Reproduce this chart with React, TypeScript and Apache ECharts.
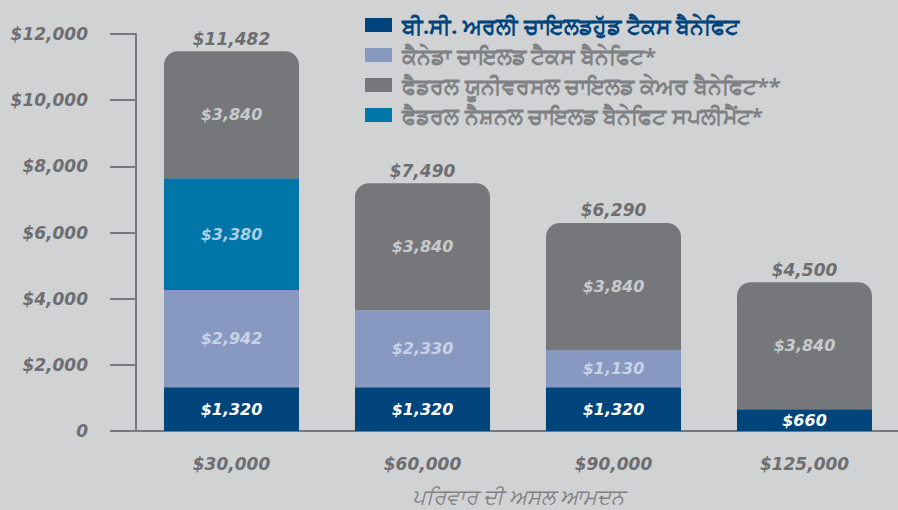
import React, { useEffect, useRef } from "react";
import * as echarts from "echarts";

const categories = ["$30,000", "$60,000", "$90,000", "$125,000"];
const bcEarly = [1320, 1320, 1320, 660];
const canadaChild = [2942, 2330, 1130, null];
const nationalSupplement = [3380, null, null, null];
const universalCare = [3840, 3840, 3840, 3840];
const totals = [11482, 7490, 6290, 4500];

const nameBC = "ਬੀ.ਸੀ. ਅਰਲੀ ਚਾਇਲਡਹੁੱਡ ਟੈਕਸ ਬੈਨੇਫਿਟ";
const nameCanada = "ਕੈਨੇਡਾ ਚਾਇਲਡ ਟੈਕਸ ਬੈਨੇਫਿਟ*";
const nameUniversal = "ਫੈਡਰਲ ਯੂਨੀਵਰਸਲ ਚਾਇਲਡ ਕੇਅਰ ਬੈਨੇਫਿਟ**";
const nameNational = "ਫੈਡਰਲ ਨੈਸ਼ਨਲ ਚਾਇਲਡ ਬੈਨੇਫਿਟ ਸਪਲੀਮੈਂਟ*";
const axisName = "ਪਰਿਵਾਰ ਦੀ ਅਸਲ ਆਮਦਨ";

const NUMFONT = "'DejaVu Sans', 'Open Sans', sans-serif";
const TXTFONT = "'Noto Sans', 'DejaVu Sans', sans-serif";
const fmt = (v: number) => "$" + Number(v).toLocaleString("en-US");

export default function App() {
  const ref = useRef<HTMLDivElement>(null);
  useEffect(() => {
    if (!ref.current) return;
    const chart = echarts.init(ref.current, null, { renderer: "svg" });
    const segLabel = (color: string) => ({
      show: true,
      position: "inside" as const,
      color,
      fontFamily: NUMFONT,
      fontStyle: "italic" as const,
      fontWeight: "bold" as const,
      fontSize: 16,
      formatter: (p: any) => fmt(p.value),
    });
    const barCommon = {
      type: "bar" as const,
      stack: "total",
      barWidth: "70.7%",
      barGap: "-100%",
    };
    chart.setOption({
      animation: false,
      backgroundColor: "#d1d2d4",
      grid: {
        left: 136,
        right: -2,
        top: 34,
        bottom: 79,
        containLabel: false,
        outerBoundsMode: "none",
      },
      legend: {
        orient: "vertical",
        left: 360,
        top: 9,
        itemWidth: 27,
        itemHeight: 14,
        itemGap: 8,
        icon: "rect",
        selectedMode: false,
        textStyle: {
          fontFamily: TXTFONT,
          fontSize: 22,
          fontWeight: "bold",
          color: "#808184",
          padding: [0, 0, 0, 5],
          lineHeight: 20,
        },
        data: [
          { name: nameBC, textStyle: { color: "#00447c" } },
          { name: nameCanada },
          { name: nameUniversal },
          { name: nameNational },
        ],
      },
      xAxis: {
        type: "category",
        data: categories,
        name: axisName,
        nameLocation: "middle",
        nameGap: 55,
        nameTextStyle: {
          fontFamily: TXTFONT,
          fontSize: 21,
          lineHeight: 20,
          fontStyle: "italic",
          color: "#808184",
        },
        axisLine: { lineStyle: { color: "#77787b", width: 2 } },
        axisTick: { show: false },
        axisLabel: {
          margin: 24,
          fontFamily: NUMFONT,
          fontStyle: "italic",
          fontWeight: "bold",
          fontSize: 17,
          color: "#6d6e71",
        },
      },
      yAxis: {
        type: "value",
        min: 0,
        max: 12000,
        interval: 2000,
        axisLine: { show: true, lineStyle: { color: "#77787b", width: 2 } },
        axisTick: { show: true, length: 26, lineStyle: { color: "#77787b", width: 2 } },
        splitLine: { show: false },
        axisLabel: {
          margin: 48,
          fontFamily: NUMFONT,
          fontStyle: "italic",
          fontWeight: "bold",
          fontSize: 17,
          color: "#6d6e71",
          formatter: (v: number) => (v === 0 ? "0" : fmt(v)),
        },
      },
      series: [
        {
          ...barCommon,
          name: nameBC,
          data: bcEarly,
          itemStyle: { color: "#00447c" },
          label: segLabel("#ffffff"),
        },
        {
          ...barCommon,
          name: nameCanada,
          data: canadaChild,
          itemStyle: { color: "#8799c1" },
          label: segLabel("#c9d1e6"),
        },
        {
          ...barCommon,
          name: nameNational,
          data: nationalSupplement,
          itemStyle: { color: "#0076a8" },
          label: segLabel("#a9cde3"),
        },
        {
          ...barCommon,
          name: nameUniversal,
          data: universalCare,
          itemStyle: { color: "#76777b", borderRadius: [14, 14, 0, 0] },
          label: segLabel("#c8c9cb"),
        },
        {
          type: "bar",
          name: "total",
          data: totals,
          barWidth: "70.7%",
          barGap: "-100%",
          itemStyle: { color: "rgba(0,0,0,0)" },
          silent: true,
          z: 1,
          label: {
            show: true,
            position: "top",
            distance: 4,
            color: "#6d6e71",
            fontFamily: NUMFONT,
            fontStyle: "italic",
            fontWeight: "bold",
            fontSize: 17,
            formatter: (p: any) => fmt(p.value),
          },
        },
      ],
    });
    return () => chart.dispose();
  }, []);
  return (
    <div
      ref={ref}
      style={{ position: "fixed", left: 0, top: 0, width: 898, height: 510 }}
    />
  );
}
